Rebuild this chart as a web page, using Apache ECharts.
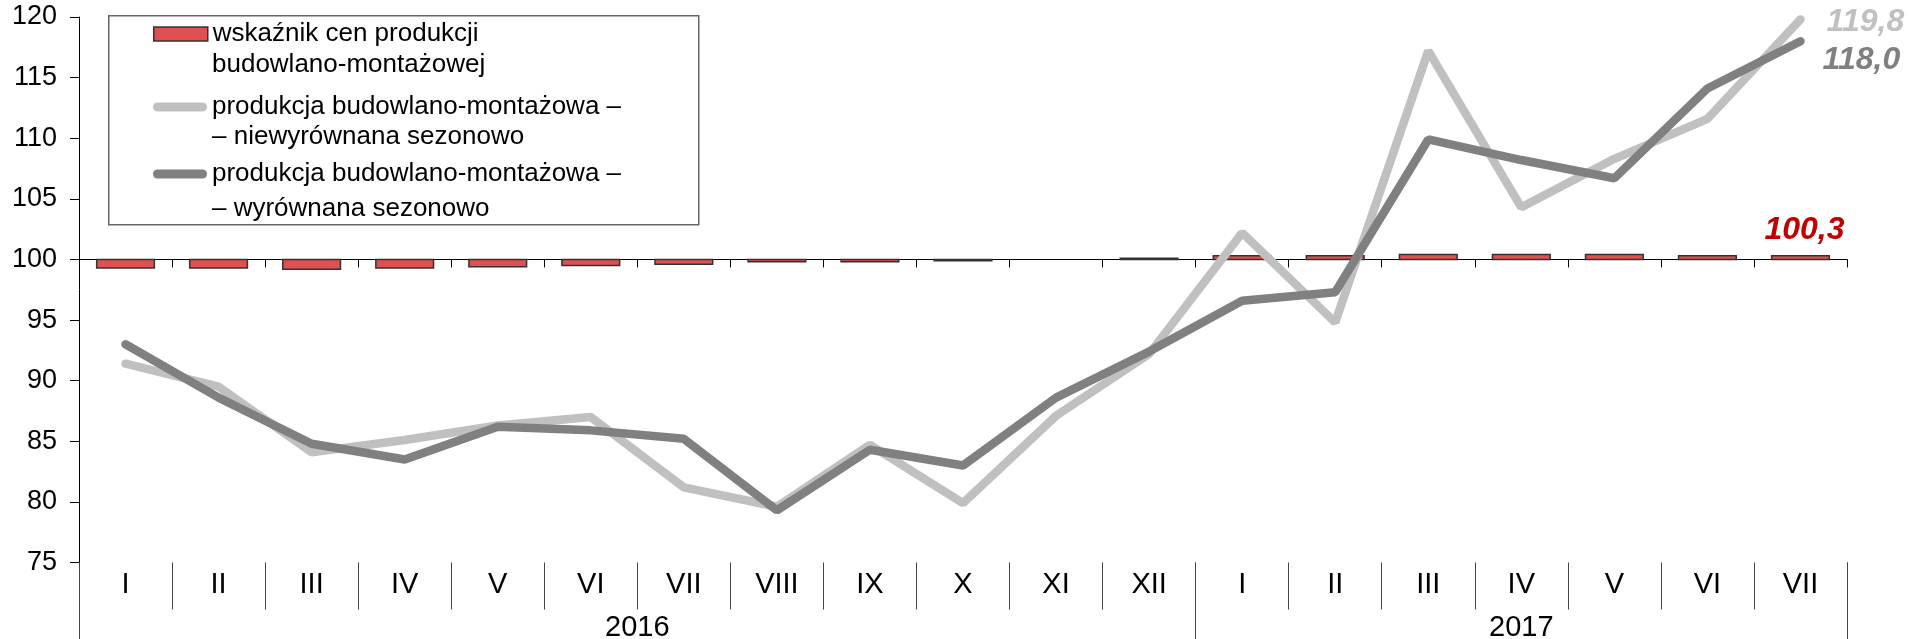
<!DOCTYPE html>
<html>
<head>
<meta charset="utf-8">
<script src="https://cdn.jsdelivr.net/npm/echarts@6/dist/echarts.min.js"></script>
<style>
html,body{margin:0;padding:0;background:#fff;}
#chart{width:1909px;height:639px;}
</style>
</head>
<body>
<div id="chart"></div>
<script>
// ---- data ----
const months2016 = ['I','II','III','IV','V','VI','VII','VIII','IX','X','XI','XII'];
const months2017 = ['I','II','III','IV','V','VI','VII'];
const years = ['2016','2017'];
const yTicks = [75, 120, 5]; // min, max, step
const priceIndex = [99.3, 99.3, 99.2, 99.3, 99.4, 99.5, 99.6, 99.8, 99.8, 99.9, 100.0, 100.1,
                    100.3, 100.3, 100.4, 100.4, 100.4, 100.3, 100.3];
const unadjusted = [91.4, 89.5, 84.1, 85.1, 86.3, 87.0, 81.2, 79.6, 84.7, 79.9, 87.1, 92.2,
                    102.2, 94.8, 117.2, 104.3, 108.3, 111.6, 119.8];
const adjusted = [93.0, 88.6, 84.8, 83.5, 86.2, 85.9, 85.2, 79.3, 84.3, 83.0, 88.6, 92.4,
                  96.6, 97.3, 109.9, 108.2, 106.7, 114.1, 118.0];
const seriesNames = [
  'wskaźnik cen produkcji\nbudowlano-montażowej',
  'produkcja budowlano-montażowa –\n– niewyrównana sezonowo',
  'produkcja budowlano-montażowa –\n– wyrównana sezonowo'
];
const baseLevel = 100;

// ---- derived ----
const monthLabels = months2016.concat(months2017);
const yearCounts = [months2016.length, months2017.length];
// year axis: half-band points (boundaryGap false)
const nHalf = monthLabels.length * 2;
const yearAxisData = new Array(nHalf + 1).fill('');
const yearBoundaries = [0];
let start = 0;
yearCounts.forEach((c, k) => {
  yearAxisData[start * 2 + c] = years[k];
  start += c;
  yearBoundaries.push(start * 2);
});
const fmt = v => Number(v).toFixed(1).replace('.', ',');

const RED = '#E05050';
const LIGHT = '#C0C0C0';
const DARK = '#808080';
const SANS = "'Liberation Sans',Arial,sans-serif";
const capsule = 'path://M4.5,0H49.5A4.5,4.5,0,0,1,49.5,9H4.5A4.5,4.5,0,0,1,4.5,0Z';

const chart = echarts.init(document.getElementById('chart'), null, {renderer: 'canvas'});

const legendText = {color: '#000', fontSize: 26, fontFamily: SANS};
const legendIconCenters = [33, 106, 172];
const legendSecondLineY = [65, 137, 209];
function mkLegend(name, iconCenter, icon, h, extra) {
  return Object.assign({
    data: [{name: name, icon: icon}],
    left: 153, top: iconCenter - 16, padding: 0,
    itemWidth: 54, itemHeight: h,
    symbolKeepAspect: false,
    selectedMode: false,
    formatter: n => n.split('\n')[0],
    textStyle: Object.assign({lineHeight: 32, height: 32}, legendText)
  }, extra || {});
}

const option = {
  animation: false,
  backgroundColor: '#fff',
  grid: {left: 79, right: 62, top: 17, bottom: 76.5, containLabel: false, outerBoundsMode: 'none'},
  legend: [
    mkLegend(seriesNames[0], legendIconCenters[0] + 1, 'rect', 14, {itemStyle: {borderColor: '#333', borderWidth: 1.5}}),
    mkLegend(seriesNames[1], legendIconCenters[1] + 1, capsule, 9),
    mkLegend(seriesNames[2], legendIconCenters[2] + 2, capsule, 9)
  ],
  graphic: [{
    type: 'rect', left: 108, top: 15, z: -1,
    shape: {width: 590, height: 209},
    style: {fill: '#fff', stroke: '#666', lineWidth: 1.5}
  }].concat(seriesNames.map((n, k) => ({
    type: 'text', x: 212, y: legendSecondLineY[k], z: 10,
    style: {text: n.split('\n')[1], fill: '#000', fontSize: 26, fontFamily: SANS,
            verticalAlign: 'middle', align: 'left'}
  }))),
  xAxis: [
    { // data axis, line at 100
      type: 'category', data: monthLabels, position: 'bottom',
      axisLine: {show: true, onZero: true, onZeroAxisIndex: 1, lineStyle: {color: '#000', width: 1}},
      axisTick: {show: true, length: 8, interval: 0, lineStyle: {color: '#000', width: 1}},
      axisLabel: {show: false}, splitLine: {show: false}
    },
    { // month labels
      type: 'category', data: monthLabels, position: 'bottom',
      axisLine: {show: false, onZero: false},
      axisTick: {show: true, length: 47, interval: 0, lineStyle: {color: '#444', width: 1}},
      axisLabel: {show: true, interval: 0, margin: 8, color: '#000', fontSize: 29, fontFamily: SANS},
      splitLine: {show: false}
    },
    { // year labels
      type: 'category', data: yearAxisData, position: 'bottom', boundaryGap: false,
      axisLine: {show: false, onZero: false},
      axisTick: {show: true, length: 77, interval: (i) => yearBoundaries.indexOf(i) >= 0,
                 lineStyle: {color: '#444', width: 1}},
      axisLabel: {show: true, interval: 0, margin: 51, color: '#000', fontSize: 29, fontFamily: SANS},
      splitLine: {show: false}
    }
  ],
  yAxis: [
    {
      type: 'value', min: yTicks[0], max: yTicks[1], interval: yTicks[2], position: 'left',
      axisLine: {show: true, lineStyle: {color: '#000', width: 1}},
      axisTick: {show: true, length: 9, lineStyle: {color: '#000', width: 1}},
      axisLabel: {color: '#000', fontSize: 27, fontFamily: SANS, margin: 22},
      splitLine: {show: false}
    },
    { // helper axis: its zero coincides with level 100 on the main axis
      type: 'value', show: false,
      min: yTicks[0] - baseLevel, max: yTicks[1] - baseLevel
    }
  ],
  series: [
    {
      name: seriesNames[0],
      type: 'custom',
      xAxisIndex: 0, yAxisIndex: 0,
      itemStyle: {color: RED, borderColor: '#333', borderWidth: 1.5},
      encode: {x: 0, y: 1},
      data: priceIndex.map((v, i) => [i, v]),
      z: 1,
      renderItem: function (params, api) {
        const i = api.value(0), v = api.value(1);
        const p0 = api.coord([i, baseLevel]);
        const p1 = api.coord([i, v]);
        const w = api.size([1, 0])[0] * 0.62;
        const h = Math.abs(p1[1] - p0[1]);
        if (h < 0.01) return null;
        const el = {
          type: 'rect',
          shape: {x: p0[0] - w / 2, y: Math.min(p0[1], p1[1]), width: w, height: h},
          style: api.style()
        };
        if (params.dataIndex === priceIndex.length - 1) {
          el.textContent = {
            style: {text: fmt(v), fill: '#C00000', fontSize: 32, fontWeight: 'bold',
                    fontStyle: 'italic', fontFamily: SANS}
          };
          el.textConfig = {position: 'top', distance: 9, offset: [4, 0]};
        }
        return el;
      }
    },
    {
      name: seriesNames[1],
      type: 'line', data: unadjusted, xAxisIndex: 0, yAxisIndex: 0,
      color: LIGHT, symbol: 'none', z: 3,
      lineStyle: {color: LIGHT, width: 8.5, cap: 'round'},
      itemStyle: {color: LIGHT},
      endLabel: {show: true, formatter: p => fmt(p.value), distance: 26, offset: [0, 3],
                 color: LIGHT, fontSize: 32, fontWeight: 'bold', fontStyle: 'italic', fontFamily: SANS}
    },
    {
      name: seriesNames[2],
      type: 'line', data: adjusted, xAxisIndex: 0, yAxisIndex: 0,
      color: DARK, symbol: 'none', z: 4,
      lineStyle: {color: DARK, width: 8.5, cap: 'round'},
      itemStyle: {color: DARK},
      endLabel: {show: true, formatter: p => fmt(p.value), distance: 22, offset: [0, 19],
                 color: DARK, fontSize: 32, fontWeight: 'bold', fontStyle: 'italic', fontFamily: SANS}
    }
  ]
};
chart.setOption(option);
</script>
</body>
</html>
